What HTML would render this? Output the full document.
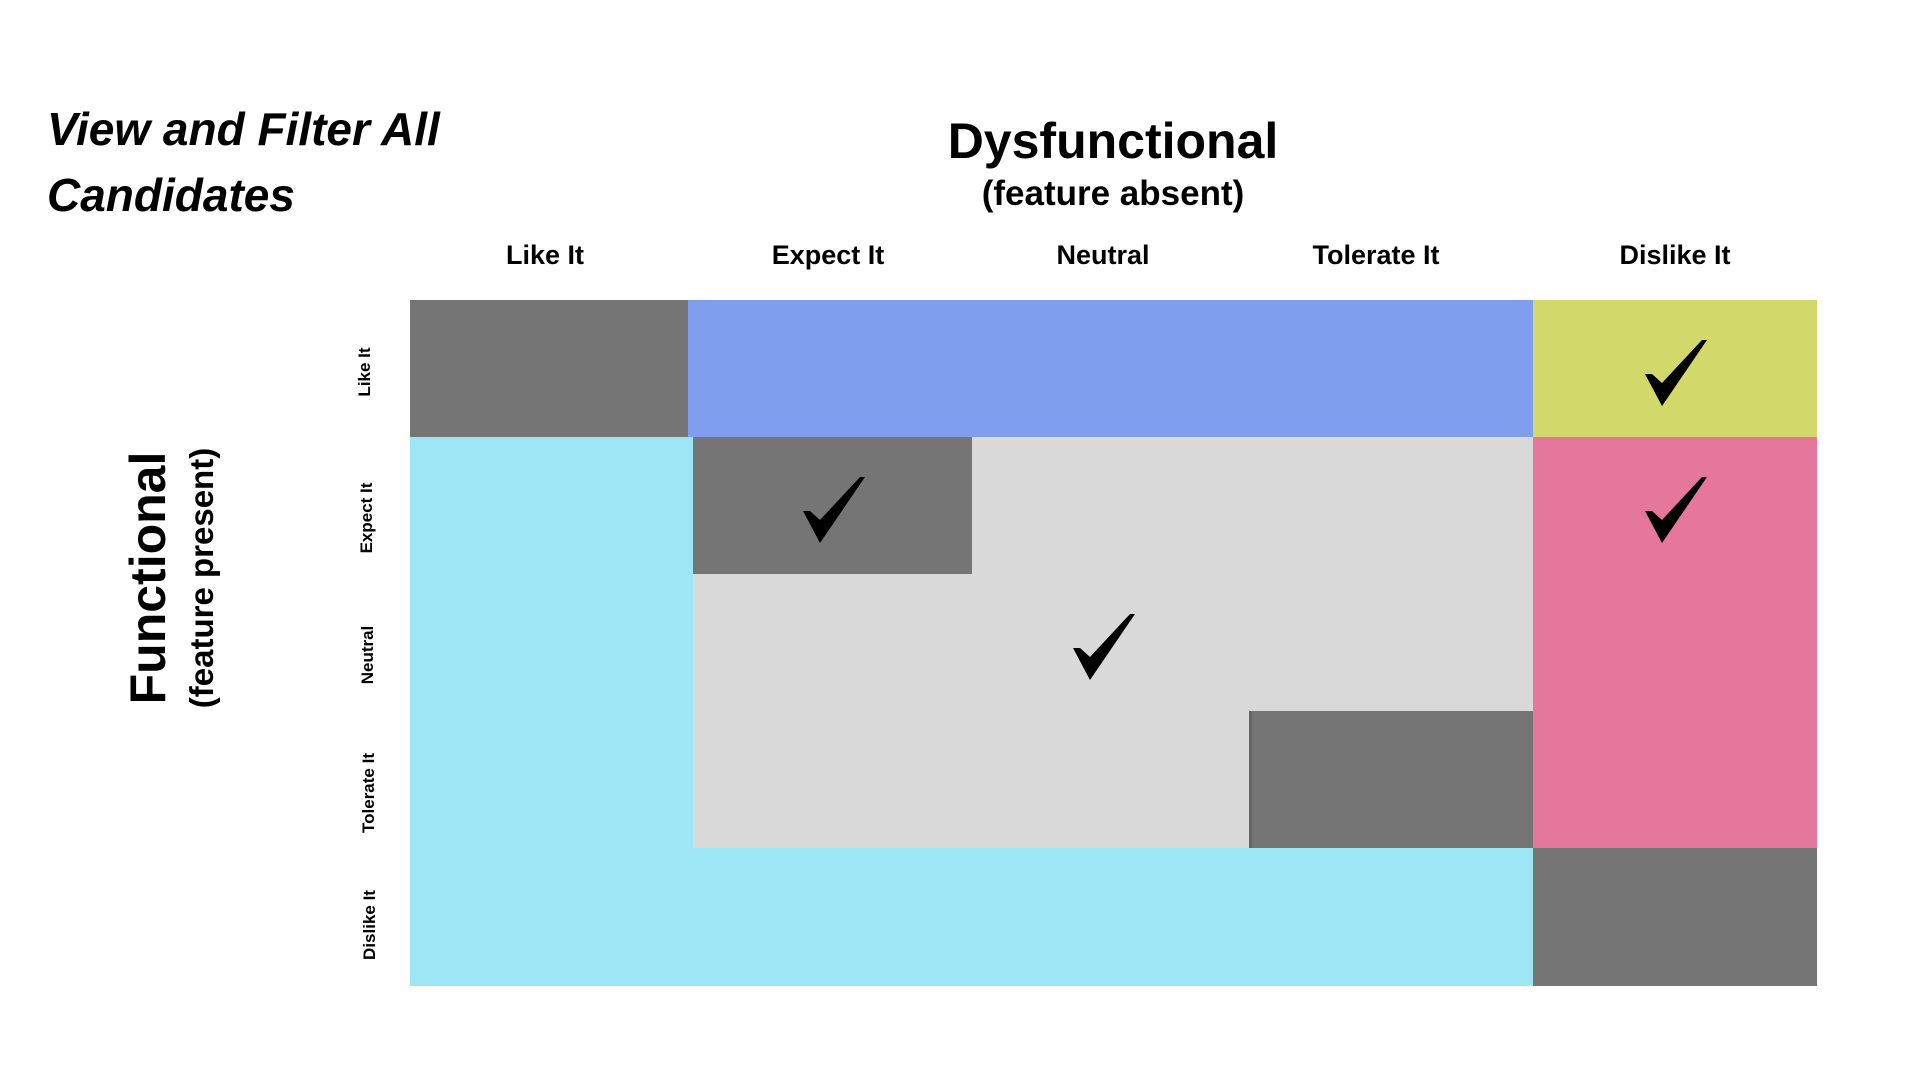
<!DOCTYPE html>
<html><head><meta charset="utf-8"><style>
body{margin:0;width:1920px;height:1080px;background:#fff;position:relative;overflow:hidden;font-family:"Liberation Sans",sans-serif;}
.r{position:absolute;}
.t{position:absolute;font-weight:bold;color:#000;white-space:nowrap;}
.c{transform:translateX(-50%);}
.v{transform:translate(-50%,-50%) rotate(-90deg);}
svg.k{position:absolute;width:62px;height:66px;}
</style></head><body>
<div class="t" style="left:47px;top:96px;font-size:46px;font-style:italic;line-height:66px;">View and Filter All<br>Candidates</div>
<div class="t c" style="left:1113px;top:112px;font-size:50px;">Dysfunctional</div>
<div class="t c" style="left:1113px;top:174px;font-size:35px;">(feature absent)</div>
<div class="t c" style="left:545px;top:240px;font-size:27px;">Like It</div>
<div class="t c" style="left:828px;top:240px;font-size:27px;">Expect It</div>
<div class="t c" style="left:1103px;top:240px;font-size:27px;">Neutral</div>
<div class="t c" style="left:1376px;top:240px;font-size:27px;">Tolerate It</div>
<div class="t c" style="left:1675px;top:240px;font-size:27px;">Dislike It</div>
<div class="t v" style="left:148px;top:578px;font-size:50px;">Functional</div>
<div class="t v" style="left:202px;top:578px;font-size:33px;">(feature present)</div>
<div class="t v" style="left:365px;top:372px;font-size:17px;">Like It</div>
<div class="t v" style="left:367px;top:518px;font-size:17px;">Expect It</div>
<div class="t v" style="left:368px;top:655px;font-size:17px;">Neutral</div>
<div class="t v" style="left:369px;top:793px;font-size:17px;">Tolerate It</div>
<div class="t v" style="left:370px;top:925px;font-size:17px;">Dislike It</div>

<div class="r" style="left:410px;top:300px;width:278px;height:137px;background:#757575"></div>
<div class="r" style="left:688px;top:300px;width:845px;height:137px;background:#7f9eee"></div>
<div class="r" style="left:1533px;top:300px;width:284px;height:137px;background:#d2d86a"></div>
<div class="r" style="left:410px;top:437px;width:283px;height:411px;background:#9ce6f5"></div>
<div class="r" style="left:410px;top:848px;width:1123px;height:138px;background:#9ce6f5"></div>
<div class="r" style="left:693px;top:437px;width:840px;height:411px;background:#d9d9d9"></div>
<div class="r" style="left:693px;top:437px;width:279px;height:137px;background:#757575"></div>
<div class="r" style="left:1249px;top:711px;width:284px;height:137px;background:#757575;border-left:3px solid #666;box-sizing:border-box"></div>
<div class="r" style="left:1533px;top:437px;width:284px;height:411px;background:#e5779d"></div>
<div class="r" style="left:1533px;top:848px;width:284px;height:138px;background:#757575"></div>

<svg class="k" style="left:1645px;top:340px" viewBox="0 0 62 66"><polygon points="0,34 7,34 17,43 57,0 62,0 17,66" fill="#000"/></svg>
<svg class="k" style="left:803px;top:477px" viewBox="0 0 62 66"><polygon points="0,34 7,34 17,43 57,0 62,0 17,66" fill="#000"/></svg>
<svg class="k" style="left:1073px;top:614px" viewBox="0 0 62 66"><polygon points="0,34 7,34 17,43 57,0 62,0 17,66" fill="#000"/></svg>
<svg class="k" style="left:1645px;top:477px" viewBox="0 0 62 66"><polygon points="0,34 7,34 17,43 57,0 62,0 17,66" fill="#000"/></svg>
</body></html>
